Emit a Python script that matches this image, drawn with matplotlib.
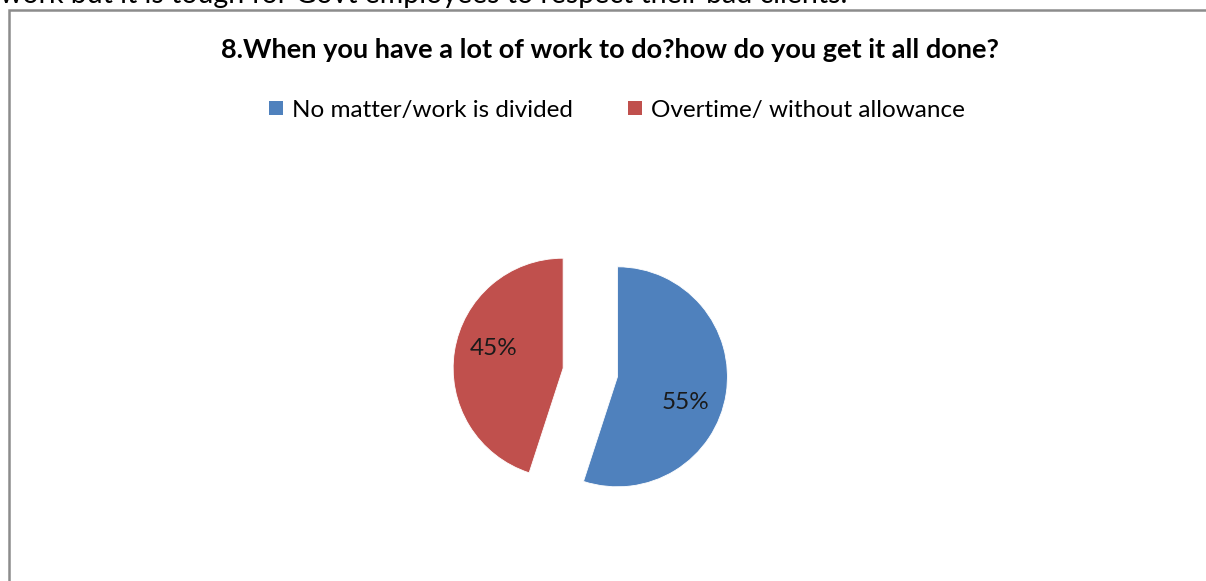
import matplotlib
matplotlib.use("Agg")
import numpy as np
import matplotlib.pyplot as plt
from matplotlib.patches import Rectangle

title = "8.When you have a lot of work to do?how do you get it all done?"
categories = ["No matter/work is divided", "Overtime/ without allowance"]
values = [55, 45]
colors = ["#4F81BD", "#C0504D"]
above_text = "work but it is tough for Govt employees to respect their bad clients."

W, H = 1206, 581
plt.rcParams['font.family'] = ['Lato', 'DejaVu Sans']
fig = plt.figure(figsize=(W / 100, H / 100), dpi=100)

ax = fig.add_axes([0, 0, 1, 1])
wedges, texts, autotexts = ax.pie(
    values, colors=colors, explode=[0.25, 0.25], startangle=90,
    counterclock=False, radius=1, autopct='%d%%', pctdistance=0.64,
    textprops=dict(fontsize=17.5, color='#1a1a1a'),
    wedgeprops=dict(linewidth=0.6, edgecolor='#ffffff'))
ax.set_axis_off()
R = 110.0
cx, cy = 590.3, 372.5
ax.set_aspect('auto')
ax.set_xlim(-cx / R, (W - cx) / R)
ax.set_ylim(-(H - cy) / R, cy / R)

# Excel-like label placement: rotate labels slightly clockwise around wedge centre
for w, t, rot in zip(wedges, autotexts, [-12, -7]):
    c = np.array(w.center)
    p = np.array(t.get_position()) - c
    a = np.deg2rad(rot)
    rp = np.array([p[0] * np.cos(a) - p[1] * np.sin(a), p[0] * np.sin(a) + p[1] * np.cos(a)])
    t.set_position(tuple(c + rp * 1.03))

# border box
fig.patches.append(Rectangle((8.5 / W, -0.05), 1.2, 1 - 10.5 / H + 0.05,
                             transform=fig.transFigure, fill=False,
                             edgecolor='#8c8c8c', linewidth=1.8))

fig.text(0.0, 1 - 3 / H, above_text, fontsize=20.5, ha='left', va='baseline', color='black')

fig.text(610 / W, 1 - 58 / H, title, fontsize=19.5, fontweight='bold',
         ha='center', va='baseline', color='black')

leg = fig.legend(wedges, categories, loc='center', bbox_to_anchor=(617 / W, 1 - 110 / H),
                 ncol=2, frameon=False, fontsize=17.5, handlelength=0.55, handleheight=0.55,
                 handletextpad=0.37, columnspacing=2.3, borderpad=0)
for h in leg.legend_handles:
    h.set_linewidth(0)

fig.savefig("out.png", dpi=100)
